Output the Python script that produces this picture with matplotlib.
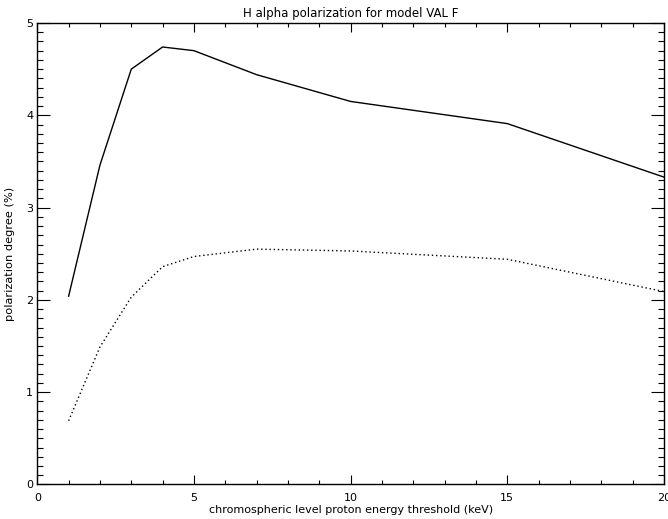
import matplotlib
matplotlib.use("Agg")
import matplotlib.pyplot as plt
from matplotlib.ticker import MultipleLocator

# proton energy threshold (keV)
energy = [1, 2, 3, 4, 5, 7, 10, 15, 20]
# polarization degree (%)
pol_solid = [2.04, 3.46, 4.50, 4.74, 4.70, 4.44, 4.15, 3.91, 3.33]
pol_dotted = [0.69, 1.49, 2.03, 2.36, 2.47, 2.55, 2.53, 2.44, 2.09]

fig = plt.figure(figsize=(6.68, 5.19), dpi=100)
ax = fig.add_axes([0.0558, 0.0665, 0.9382, 0.8892])

ax.plot(energy, pol_solid, color='black', linewidth=1.0)
ax.plot(energy, pol_dotted, color='black', linewidth=1.0, linestyle=(0, (1, 2)))

ax.set_xlim(0, 20)
ax.set_ylim(0, 5)
ax.xaxis.set_major_locator(MultipleLocator(5))
ax.xaxis.set_minor_locator(MultipleLocator(1))
ax.yaxis.set_major_locator(MultipleLocator(1))
ax.yaxis.set_minor_locator(MultipleLocator(0.1))

ax.tick_params(axis='both', which='both', direction='in', top=True, right=True,
               labelsize=8, width=0.8, colors='black')
ax.tick_params(axis='x', which='major', length=6.5, pad=6)
ax.tick_params(axis='x', which='minor', length=2.9)
ax.tick_params(axis='y', which='major', length=9.1, pad=3)
ax.tick_params(axis='y', which='minor', length=4.3)

for s in ax.spines.values():
    s.set_linewidth(1.0)

ax.set_title("H alpha polarization for model VAL F", fontsize=8.5, pad=4)
ax.set_xlabel("chromospheric level proton energy threshold (keV)", fontsize=8, labelpad=1.5)
ax.set_ylabel("polarization degree (%)", fontsize=8.2, labelpad=8)

plt.savefig("out.png", dpi=100)
